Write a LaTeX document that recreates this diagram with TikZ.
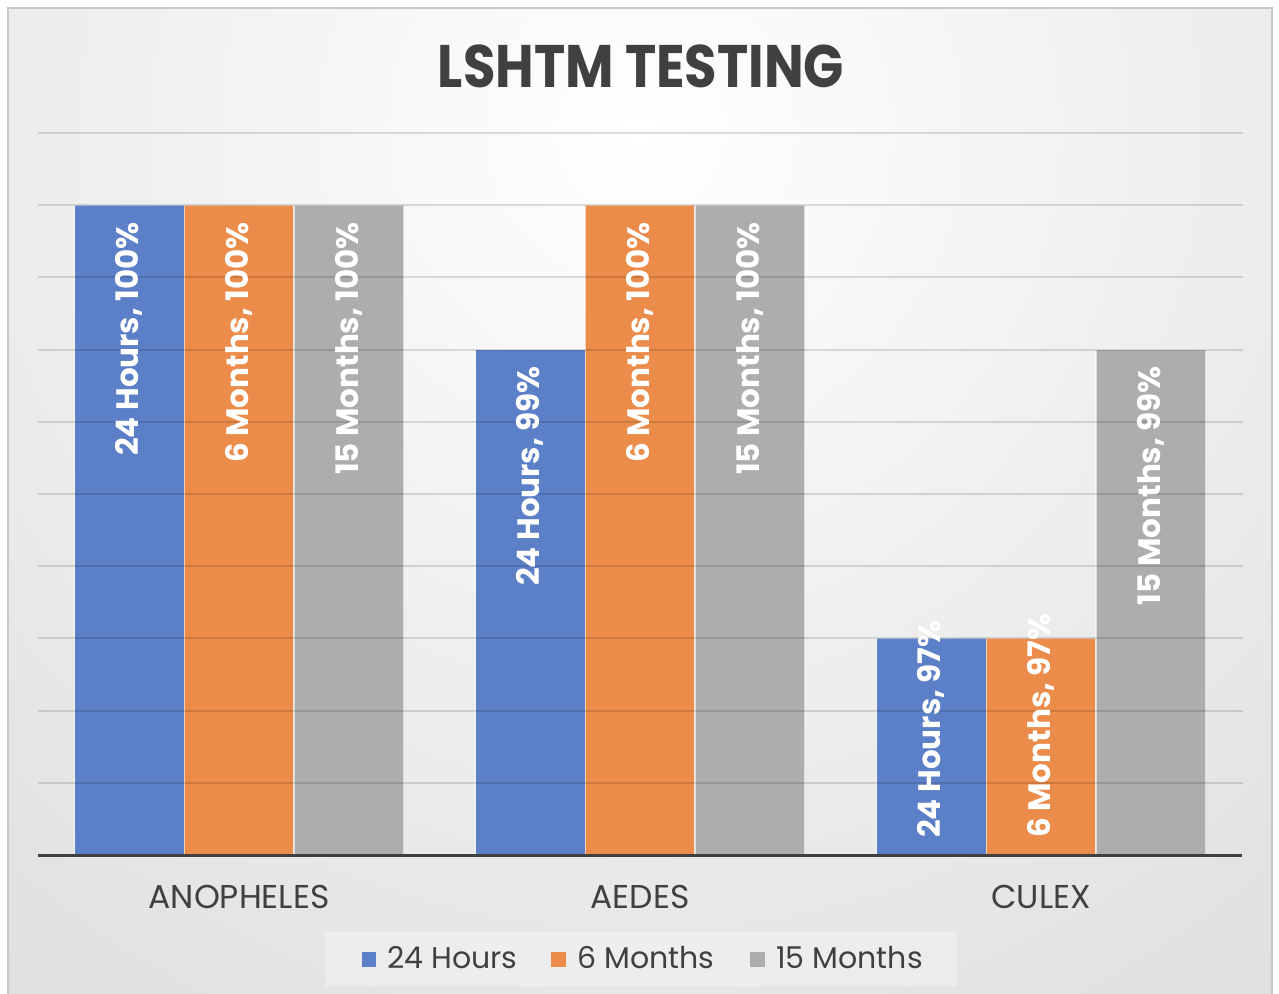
\documentclass[tikz,border=0pt]{standalone}
\usepackage{fontspec}
\setmainfont{Poppins}
\definecolor{hours24}{RGB}{91,128,200}
\definecolor{months6}{RGB}{235,140,74}
\definecolor{months15}{RGB}{173,173,173}
\definecolor{inkgray}{RGB}{64,64,64}
\definecolor{bgedge}{RGB}{196,196,196}
\definecolor{framegray}{RGB}{200,200,200}
\tikzset{
  bar24/.style={fill=hours24, draw=white, draw opacity=0.6, line width=1.2pt},
  bar6/.style={fill=months6, draw=white, draw opacity=0.6, line width=1.2pt},
  bar15/.style={fill=months15, draw=white, draw opacity=0.6, line width=1.2pt},
  gridline/.style={black, opacity=0.13, line width=2pt},
  datalabel/.style={rotate=90, text=white, inner sep=0pt, font=\bfseries\fontsize{31}{37}\selectfont},
  catlabel/.style={anchor=base, text=inkgray, font=\fontsize{33}{39}\selectfont},
  legendtext/.style={anchor=base west, text=inkgray, inner sep=0pt, font=\fontsize{30}{36}\selectfont},
}
\begin{document}
\begin{tikzpicture}[x=1pt, y=-1pt]
            \useasboundingbox (0,0) rectangle (1279,993);
            \fill[white] (0,0) rectangle (1279,993);
            % chart area
            \begin{scope}
            \clip (8,8) rectangle (1272,1000);
            \shade[inner color=white, outer color=bgedge] (640,130) circle (2000);
            \end{scope}
            \draw[framegray, line width=1.5pt] (8,1000) -- (8,8) -- (1272,8) -- (1272,1000);

            \node[font=\bfseries\fontsize{60}{70}\selectfont, text=inkgray, anchor=base, xscale=0.88] (title) at (641,87) {LSHTM TESTING};

            % bars
            \draw[bar24] (74.5,855) rectangle (184.2,205.2);
            \draw[bar6] (184.2,855) rectangle (293.9,205.2);
            \draw[bar15] (293.9,855) rectangle (403.6,205.2);

            \draw[bar24] (475.5,855) rectangle (585.2,349.6);
            \draw[bar6] (585.2,855) rectangle (694.9,205.2);
            \draw[bar15] (694.9,855) rectangle (804.6,205.2);

            \draw[bar24] (876.5,855) rectangle (986.2,638.4);
            \draw[bar6] (986.2,855) rectangle (1095.9,638.4);
            \draw[bar15] (1095.9,855) rectangle (1205.6,349.6);

            % gridlines
            \draw[gridline] (38,133) -- (1243,133);
            \draw[gridline] (38,205.2) -- (1243,205.2);
            \draw[gridline] (38,277.4) -- (1243,277.4);
            \draw[gridline] (38,349.6) -- (1243,349.6);
            \draw[gridline] (38,421.8) -- (1243,421.8);
            \draw[gridline] (38,494) -- (1243,494);
            \draw[gridline] (38,566.2) -- (1243,566.2);
            \draw[gridline] (38,638.4) -- (1243,638.4);
            \draw[gridline] (38,710.6) -- (1243,710.6);
            \draw[gridline] (38,782.8) -- (1243,782.8);
            \draw[inkgray, line width=3pt] (38,855) -- (1242,855);

            % data labels
            \node[datalabel, anchor=east] (anoph24) at (129.3,222) {24 Hours, 100\%};
            \node[datalabel, anchor=east] (anoph6) at (239,222) {6 Months, 100\%};
            \node[datalabel, anchor=east] (anoph15) at (348.7,222) {15 Months, 100\%};
            \node[datalabel, anchor=east] (aedes24) at (530.3,366) {24 Hours, 99\%};
            \node[datalabel, anchor=east] (aedes6) at (640,222) {6 Months, 100\%};
            \node[datalabel, anchor=east] (aedes15) at (749.7,222) {15 Months, 100\%};
            \node[datalabel, anchor=west] (culex24) at (931.3,838) {24 Hours, 97\%};
            \node[datalabel, anchor=west] (culex6) at (1041,838) {6 Months, 97\%};
            \node[datalabel, anchor=east] (culex15) at (1150.7,366) {15 Months, 99\%};

            % categories
            \node[catlabel] (anopheles) at (239,908) {ANOPHELES};
            \node[catlabel] (aedes) at (640,908) {AEDES};
            \node[catlabel] (culex) at (1041,908) {CULEX};

            % legend
            \fill[white, opacity=0.3] (325,932) rectangle (957,986);
            \fill[hours24] (362,952) rectangle (376,967);
            \node[legendtext] (leg24) at (387,968) {24 Hours};
            \fill[months6] (551,952) rectangle (566,967);
            \node[legendtext] (leg6) at (577,968) {6 Months};
            \fill[months15] (750,952) rectangle (765,967);
            \node[legendtext] (leg15) at (776,968) {15 Months};
\end{tikzpicture}
\end{document}
